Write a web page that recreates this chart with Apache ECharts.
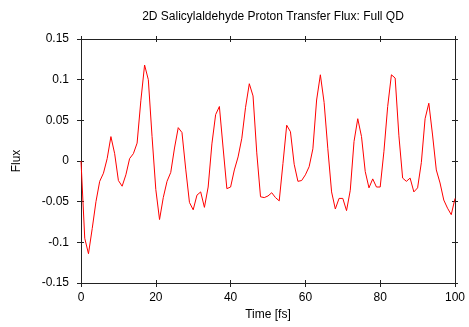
<!DOCTYPE html>
<html>
<head>
<meta charset="utf-8">
<script src="https://cdn.jsdelivr.net/npm/echarts@6/dist/echarts.min.js"></script>
<style>html,body{margin:0;padding:0;background:#fff}#c{width:469px;height:327px}</style>
</head>
<body>
<div id="c"></div>
<script>
var titleText = '2D Salicylaldehyde Proton Transfer Flux: Full QD';
var xName = 'Time [fs]';
var yName = 'Flux';
var xTicks = [0, 20, 40, 60, 80, 100];
var yTicks = [-0.15, -0.1, -0.05, 0, 0.05, 0.1, 0.15];
var times = [0,1,2,3,4,5,6,7,8,9,10,11,12,13,14,15,16,17,18,19,20,21,22,23,24,25,26,27,28,29,30,31,32,33,34,35,36,37,38,39,40,41,42,43,44,45,46,47,48,49,50,51,52,53,54,55,56,57,58,59,60,61,62,63,64,65,66,67,68,69,70,71,72,73,74,75,76,77,78,79,80,81,82,83,84,85,86,87,88,89,90,91,92,93,94,95,96,97,98,99,100];
var flux = [0.000,-0.095,-0.114,-0.083,-0.050,-0.025,-0.015,0.003,0.030,0.009,
 -0.024,-0.031,-0.017,0.003,0.009,0.022,0.074,0.118,0.100,0.030,
 -0.035,-0.072,-0.045,-0.025,-0.014,0.016,0.041,0.035,-0.010,-0.051,
 -0.060,-0.042,-0.038,-0.057,-0.032,0.021,0.057,0.067,0.016,-0.034,
 -0.032,-0.011,0.005,0.028,0.066,0.095,0.080,0.010,-0.044,-0.045,
 -0.043,-0.039,-0.045,-0.049,-0.003,0.044,0.036,-0.004,-0.025,-0.024,
 -0.017,-0.007,0.015,0.075,0.106,0.072,0.015,-0.038,-0.059,-0.046,
 -0.046,-0.061,-0.036,0.024,0.052,0.030,-0.013,-0.033,-0.022,-0.032,
 -0.032,0.012,0.067,0.106,0.102,0.031,-0.021,-0.025,-0.021,-0.038,
 -0.033,-0.002,0.052,0.071,0.032,-0.011,-0.027,-0.048,-0.058,-0.066,
 -0.046];

var FONT = 'Liberation Sans, Arial, sans-serif';
var xMin = xTicks[0], xMax = xTicks[xTicks.length-1], xStep = xTicks[1]-xTicks[0];
var yMin = yTicks[0], yMax = yTicks[yTicks.length-1], yStep = 0.05;
var lineCol = '#222';

function xAx(pos, inside, len, showLine, showLabel) {
  return {
    type: 'value', position: pos, min: xMin, max: xMax, interval: xStep,
    name: showLabel ? xName : '', nameLocation: 'middle', nameGap: 22,
    nameTextStyle: {fontFamily: FONT, fontSize: 12, color: '#000'},
    axisLine: {show: showLine, onZero: false, lineStyle: {color: lineCol, width: 1}},
    axisTick: {show: true, inside: inside, length: len, lineStyle: {color: lineCol, width: 1}},
    axisLabel: {show: showLabel, margin: 9, fontFamily: FONT, fontSize: 12, color: '#000'},
    splitLine: {show: false}
  };
}
function yAx(pos, inside, len, showLine, showLabel) {
  return {
    type: 'value', position: pos, min: yMin, max: yMax, interval: yStep,
    name: showLabel ? yName : '', nameLocation: 'middle', nameGap: 58,
    nameTextStyle: {fontFamily: FONT, fontSize: 12, color: '#000'},
    axisLine: {show: showLine, onZero: false, lineStyle: {color: lineCol, width: 1}},
    axisTick: {show: true, inside: inside, length: len, lineStyle: {color: lineCol, width: 1}},
    axisLabel: {show: showLabel, margin: 12, fontFamily: FONT, fontSize: 12, color: '#000',
      formatter: function (v) { return String(parseFloat(Number(v).toFixed(2))); }},
    splitLine: {show: false}
  };
}

var chart = echarts.init(document.getElementById('c'), null, {renderer: 'canvas'});
chart.setOption({
  animation: false,
  backgroundColor: '#fff',
  title: {text: titleText, left: 268, textAlign: 'center', top: 6,
    textStyle: {fontFamily: FONT, fontSize: 12, fontWeight: 'normal', color: '#000'}},
  grid: {left: 81, right: 14, top: 39, bottom: 44, containLabel: false},
  xAxis: [
    xAx('bottom', false, 4, true, true),
    xAx('bottom', true, 3, false, false),
    xAx('top', false, 3, true, false),
    xAx('top', true, 3, false, false)
  ],
  yAxis: [
    yAx('left', false, 4, true, true),
    yAx('left', true, 3, false, false),
    yAx('right', false, 3, true, false),
    yAx('right', true, 3, false, false)
  ],
  series: [{
    type: 'line', xAxisIndex: 0, yAxisIndex: 0,
    data: times.map(function (t, i) { return [t, flux[i]]; }),
    showSymbol: false, symbol: 'none',
    lineStyle: {color: '#ff0000', width: 1},
    itemStyle: {color: '#ff0000'}
  }]
});
</script>
</body>
</html>
